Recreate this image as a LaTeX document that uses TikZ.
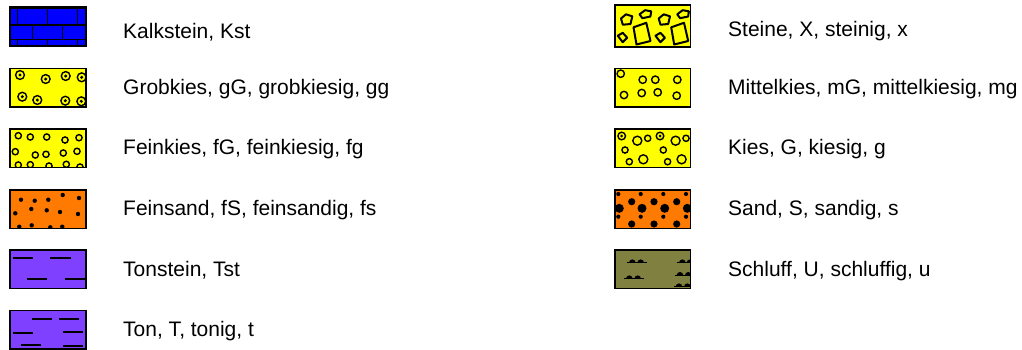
\documentclass[tikz,border=0pt]{standalone}
\usepackage{fontspec}
\setmainfont{Liberation Sans}
\definecolor{kblue}{RGB}{0,0,255}
\definecolor{kyellow}{RGB}{255,255,0}
\definecolor{korange}{RGB}{255,122,0}
\definecolor{kpurple}{RGB}{128,64,255}
\definecolor{kolive}{RGB}{128,128,64}
\tikzset{
  swatch/.style={line width=1.8pt, minimum width=76pt, minimum height=38.5pt, inner sep=0pt, outer sep=0pt, anchor=north west},
  border/.style={draw=black, line width=1.8pt},
  lbl/.style={anchor=base west, inner sep=0pt, font=\fontsize{21}{25}\selectfont},
  mortar/.style={draw=black, line width=1.7pt},
  ring/.style={draw=black, line width=1.4pt},
  dash line/.style={draw=black, line width=2pt},
  stone/.style={draw=black, line width=2pt, line join=round},
}
\begin{document}
\begin{tikzpicture}[x=1pt,y=-1pt]
\useasboundingbox (0,0) rectangle (1022,349);
\fill[white] (0,0) rectangle (1022,349);

% ---------- Kalkstein ----------
\node[swatch, fill=kblue] (kst) at (10,7.5) {};
\begin{scope}
  \clip (kst.north west) rectangle (kst.south east);
  \draw[mortar] (10,25) -- (86,25) (10,39.5) -- (86,39.5);
  \foreach \xx in {17.5,47.5,77.5} {\draw[mortar] (\xx,7.5) -- (\xx,25) (\xx,39.5) -- (\xx,46.5);}
  \foreach \xx in {32.5,62.5} {\draw[mortar] (\xx,25) -- (\xx,39.5);}
\end{scope}
\draw[border, line width=2.4pt] (kst.north west) rectangle (kst.south east);
\node[lbl] (tkst) at (123,38) {Kalkstein, Kst};

% ---------- Grobkies ----------
\node[swatch, fill=kyellow] (gg) at (10,68.5) {};
\begin{scope}
  \clip (gg.north west) rectangle (gg.south east);
  \foreach \xx/\yy in {20/75, 45.7/79, 65.7/76, 81.7/77.3, 22.3/96.7, 37.3/100, 65.3/100.7, 81.3/101.3}
    {\draw[ring] (\xx,\yy) circle[radius=4.4]; \fill (\xx,\yy) circle[radius=1.7];}
\end{scope}
\draw[border] (gg.north west) rectangle (gg.south east);
\node[lbl] (tgg) at (123,94) {Grobkies, gG, grobkiesig, gg};

% ---------- Feinkies ----------
\node[swatch, fill=kyellow] (fg) at (10,129) {};
\begin{scope}
  \clip (fg.north west) rectangle (fg.south east);
  \foreach \xx/\yy in {18.3/135.7, 30.3/137, 46.7/137, 65/140, 79/137.7,
                       15.3/151.7, 35.3/155, 46/154.3, 63.3/153, 77/151.3,
                       18.3/165, 30.3/164.7, 49/166, 66.3/164.3, 80/167}
    {\draw[ring] (\xx,\yy) circle[radius=3.1];}
\end{scope}
\draw[border] (fg.north west) rectangle (fg.south east);
\node[lbl] (tfg) at (123,154.5) {Feinkies, fG, feinkiesig, fg};

% ---------- Feinsand ----------
\node[swatch, fill=korange] (fs) at (10,190) {};
\begin{scope}
  \clip (fs.north west) rectangle (fs.south east);
  \foreach \xx/\yy in {21/199.7, 34.7/200.7, 48.3/199.7, 62.7/195, 79/198,
                       15.3/213.3, 31.3/209, 46.7/210.3, 60/212, 78/214,
                       19.3/226.7, 31.7/225.3, 50.3/227.3, 62.3/226.7}
    {\fill (\xx,\yy) circle[radius=2.2];}
\end{scope}
\draw[border] (fs.north west) rectangle (fs.south east);
\node[lbl] (tfs) at (123,215.5) {Feinsand, fS, feinsandig, fs};

% ---------- Tonstein ----------
\node[swatch, fill=kpurple] (tst) at (10,250) {};
\begin{scope}
  \clip (tst.north west) rectangle (tst.south east);
  \draw[dash line] (12.7,257.7) -- (32.7,257.7) (50,257.7) -- (70.7,257.7)
                   (26.7,279.3) -- (47.3,279.3) (65,279.3) -- (86,279.3);
\end{scope}
\draw[border] (tst.north west) rectangle (tst.south east);
\node[lbl] (ttst) at (123,276.5) {Tonstein, Tst};

% ---------- Ton ----------
\node[swatch, fill=kpurple] (ton) at (10,310.5) {};
\begin{scope}
  \clip (ton.north west) rectangle (ton.south east);
  \draw[dash line] (31.7,319.3) -- (51.7,319.3) (58.7,319.3) -- (79,319.3)
                   (12.7,332.7) -- (32.7,332.7) (63.3,331.7) -- (83.3,331.7)
                   (21,345) -- (41.3,345) (63.3,346) -- (83.3,346);
\end{scope}
\draw[border] (ton.north west) rectangle (ton.south east);
\node[lbl] (tton) at (123,336.5) {Ton, T, tonig, t};

% ---------- Steine ----------
\node[swatch, fill=kyellow, minimum height=42pt, minimum width=75.5pt] (x) at (615,5) {};
\begin{scope}
  \clip (x.north west) rectangle (x.south east);
  \foreach \dx in {0,37.7} {
    \begin{scope}[shift={(615+\dx,5)}]
      \draw[stone] (6,13.5) -- (11,9.3) -- (17.3,11.3) -- (15.5,19) -- (7.8,19.7) -- cycle;
      \draw[stone] (24.5,9.3) -- (30,5.2) -- (36.2,6.3) -- (35.4,11.5) -- (27.4,13.2) -- cycle;
      \draw[stone] (18.5,22.3) -- (31.3,17.8) -- (35.5,36) -- (21.5,39.5) -- cycle;
      \draw[stone] (2.8,30.7) -- (7.7,27.8) -- (12.2,32.7) -- (7.7,37.2) -- cycle;
    \end{scope}
  }
\end{scope}
\draw[border] (x.north west) rectangle (x.south east);
\node[lbl] (tx) at (728,36) {Steine, X, steinig, x};

% ---------- Mittelkies ----------
\node[swatch, fill=kyellow, minimum width=75.5pt] (mg) at (615,68.5) {};
\begin{scope}
  \clip (mg.north west) rectangle (mg.south east);
  \foreach \xx/\yy in {620.7/73.7, 642.7/79.7, 655.3/79.7, 677.3/79.7,
                       624/95, 641.7/93, 657.7/92.3, 676.7/95.7}
    {\draw[ring] (\xx,\yy) circle[radius=3.7];}
\end{scope}
\draw[border] (mg.north west) rectangle (mg.south east);
\node[lbl] (tmg) at (728,94) {Mittelkies, mG, mittelkiesig, mg};

% ---------- Kies ----------
\node[swatch, fill=kyellow, minimum width=75.5pt] (g) at (615,129) {};
\begin{scope}
  \clip (g.north west) rectangle (g.south east);
  \foreach \dx in {0,38.3} {
    \begin{scope}[xshift=\dx]
      \draw[ring] (621.7,136) circle[radius=3.8]; \fill (621.7,136) circle[radius=1.5];
      \draw[ring] (637.3,140.7) circle[radius=4.5];
      \draw[ring] (647.7,138.3) circle[radius=3.1];
      \draw[ring] (625,150) circle[radius=3.1];
      \draw[ring] (629.3,161.7) circle[radius=3.1];
      \draw[ring] (643.3,159.3) circle[radius=4.5];
    \end{scope}
  }
\end{scope}
\draw[border] (g.north west) rectangle (g.south east);
\node[lbl] (tg) at (728,154.5) {Kies, G, kiesig, g};

% ---------- Sand ----------
\node[swatch, fill=korange, minimum width=75.5pt] (s) at (615,190) {};
\begin{scope}
  \clip (s.north west) rectangle (s.south east);
  \foreach \xx in {618.3,640.7,663.3,686} {\fill (\xx,194) circle[radius=2.1]; \fill (\xx,216.7) circle[radius=2.1];}
  \foreach \xx in {631.7,654,676.7} {\fill (\xx,201.7) circle[radius=3.6]; \fill (\xx,224) circle[radius=3.6];}
  \foreach \xx in {619.3,642,664.7,687.3} {\fill (\xx,208.3) circle[radius=4.5];}
\end{scope}
\draw[border] (s.north west) rectangle (s.south east);
\node[lbl] (ts) at (728,215.5) {Sand, S, sandig, s};

% ---------- Schluff ----------
\node[swatch, fill=kolive, minimum width=75.5pt] (u) at (615,250) {};
\begin{scope}
  \clip (u.north west) rectangle (u.south east);
  \foreach \xa/\xb/\yy/\ba/\bb in {626.7/646.7/262.7/632.3/640.7, 624/644/278.7/629.3/637.7,
                                   676.7/692/262.7/682.3/690, 675/692/275.3/680/688.3, 674/692/286.7/679/687.3}
  {
    \draw[black, line width=1.5pt] (\xa,\yy) -- (\xb,\yy);
    \fill (\ba,\yy) ++(-3.3,0) arc[start angle=180, end angle=360, radius=3.3] -- cycle;
    \fill (\bb,\yy) ++(-3.3,0) arc[start angle=180, end angle=360, radius=3.3] -- cycle;
  }
\end{scope}
\draw[border] (u.north west) rectangle (u.south east);
\node[lbl] (tu) at (728,276.5) {Schluff, U, schluffig, u};
\end{tikzpicture}
\end{document}
